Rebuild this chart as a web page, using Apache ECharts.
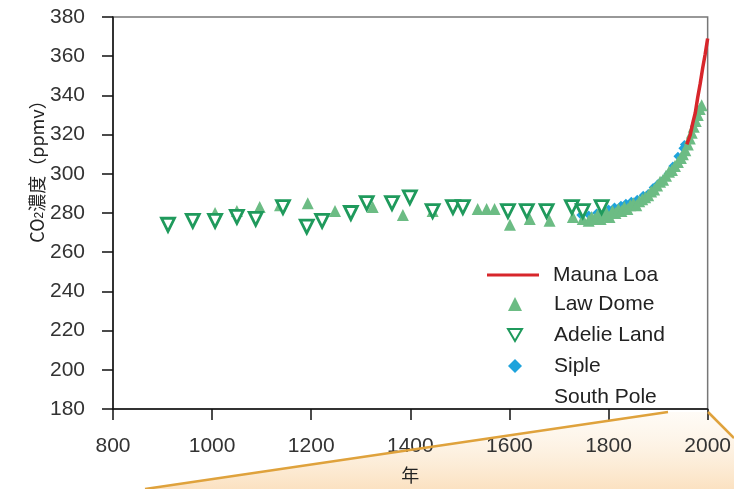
<!DOCTYPE html>
<html>
<head>
<meta charset="utf-8">
<script src="https://cdn.jsdelivr.net/npm/echarts@6/dist/echarts.min.js"></script>
<style>
html,body{margin:0;padding:0;background:#fff;}
#chart{width:734px;height:489px;}
</style>
</head>
<body>
<div id="chart"></div>
<script>
// ---- data (year, CO2 ppmv) ----
var xTicks = [800, 1000, 1200, 1400, 1600, 1800, 2000];
var yTicks = [180, 200, 220, 240, 260, 280, 300, 320, 340, 360, 380];
var seriesNames = ['Mauna Loa', 'Law Dome', 'Adelie Land', 'Siple', 'South Pole'];

var maunaLoa = [[1958,315],[1965,320],[1970,326],[1975,331],[1980,339],[1985,346],[1990,354],[1995,361],[2000,369]];

var lawDome = [[1006,280],[1050,281],[1096,283],[1137,284],[1193,285],[1248,281],[1324,283],[1385,279],
  [1445,281],[1536,282],[1554,282],[1570,282],[1601,274],[1641,277],[1681,276],[1728,278],[1748,277],
  [1760,276],[1766,278],[1772,277],[1778,279],[1784,277],[1790,279],[1796,280],[1802,278],[1808,281],
  [1814,280],[1820,282],[1826,281],[1832,283],[1838,282],[1844,284],[1850,285],[1856,284],[1862,286],
  [1868,287],[1874,288],[1880,289],[1886,291],[1892,292],[1898,294],[1904,296],[1910,297],[1916,299],
  [1922,301],[1928,302],[1934,304],[1940,306],[1946,308],[1950,310],[1955,312],[1960,315],[1964,318],
  [1968,321],[1972,324],[1976,327],[1980,330],[1984,333],[1988,335]];

var adelieLand = [[911,274],[961,276],[1006,276],[1050,278],[1088,277],[1143,283],[1191,273],[1222,276],
  [1280,280],[1312,285],[1363,285],[1399,288],[1445,281],[1486,283],[1506,283],[1597,281],[1635,281],
  [1675,281],[1726,283],[1748,281],[1786,283]];

var siple = [[1744,279],[1760,279],[1776,280],[1790,281],[1800,282],[1812,283],[1825,284],[1835,285],
  [1846,286],[1858,287],[1870,289],[1880,290],[1890,293],[1900,295],[1910,297],[1920,300],[1930,304],
  [1940,309],[1950,313],[1953,315]];

var southPole = [];

var chart = echarts.init(document.getElementById('chart'), null, {renderer: 'canvas'});
var fontLatin = '"Liberation Sans", Arial, Helvetica, sans-serif';
var fontCJK = '"Noto Sans CJK TC", "Noto Sans CJK SC", sans-serif';
var legendText = {fontFamily: fontLatin, fontSize: 21, lineHeight: 22, color: '#222'};

chart.setOption({
  animation: false,
  backgroundColor: '#ffffff',
  graphic: [
    {
      type: 'polygon', z: -1, silent: true,
      shape: {points: [[145,489],[668,412],[708,412],[734,438],[734,489]]},
      style: {
        fill: new echarts.graphic.LinearGradient(0, 0, 0, 1, [
          {offset: 0, color: 'rgba(253,242,226,0.3)'},
          {offset: 1, color: 'rgba(251,224,190,0.95)'}
        ])
      }
    },
    {
      type: 'polyline', z: 10, silent: true,
      shape: {points: [[145,489],[668,412]]},
      style: {stroke: '#dfa23c', lineWidth: 2.5}
    },
    {
      type: 'polyline', z: 10, silent: true,
      shape: {points: [[708,412],[734,438]]},
      style: {stroke: '#dfa23c', lineWidth: 2.5}
    }
  ],
  grid: {left: 113, right: 26, top: 17, bottom: 77, show: true, borderColor: '#777', borderWidth: 1.5, backgroundColor: 'transparent'},
  legend: [
    {
      orient: 'vertical',
      left: 482, top: 259,
      itemWidth: 52, itemHeight: 3,
      icon: 'rect',
      textStyle: Object.assign({padding: [0, 0, 0, 9]}, legendText),
      data: [{name: 'Mauna Loa'}]
    },
    {
      orient: 'vertical',
      left: 502, top: 288,
      itemWidth: 14, itemHeight: 14, itemGap: 9,
      textStyle: Object.assign({padding: [0, 0, 0, 27]}, legendText),
      data: [
        {name: 'Law Dome'},
        {name: 'Adelie Land', icon: 'path://M0,0 L12,0 L6,10.4 Z'},
        {name: 'Siple'},
        {name: 'South Pole', icon: 'none'}
      ]
    }
  ],
  xAxis: {
    type: 'value', min: xTicks[0], max: xTicks[xTicks.length - 1], interval: 200,
    name: '年', nameLocation: 'middle', nameGap: 57, nameMoveOverlap: false,
    nameTextStyle: {fontFamily: fontCJK, fontSize: 18, color: '#222'},
    axisLine: {lineStyle: {color: '#111', width: 1.5}},
    axisTick: {inside: false, length: 11, lineStyle: {color: '#111', width: 1.5}},
    axisLabel: {fontFamily: fontLatin, fontSize: 21, color: '#333', margin: 27, formatter: function (v) { return String(v); }},
    splitLine: {show: false}
  },
  yAxis: {
    type: 'value', min: yTicks[0], max: yTicks[yTicks.length - 1], interval: 20,
    name: 'CO{s|2}濃度（ppmv）', nameLocation: 'middle', nameGap: 67, nameMoveOverlap: false,
    nameTextStyle: {fontFamily: fontCJK, fontSize: 18, color: '#222', padding: [0, 0, 0, 92],
      rich: {s: {fontFamily: fontLatin, fontSize: 12, color: '#222', verticalAlign: 'bottom', padding: [6,0,0,0]}}},
    axisLine: {lineStyle: {color: '#111', width: 1.5}},
    axisTick: {inside: false, length: 11, lineStyle: {color: '#111', width: 1.5}},
    axisLabel: {fontFamily: fontLatin, fontSize: 21, color: '#333', margin: 28, formatter: function (v) { return String(v); }},
    splitLine: {show: false}
  },
  series: [
    {
      name: 'Mauna Loa', type: 'line', data: maunaLoa, symbol: 'none', z: 5,
      lineStyle: {color: '#d7262b', width: 3.5}, itemStyle: {color: '#d7262b'}
    },
    {
      name: 'Law Dome', type: 'scatter', data: lawDome, symbol: 'triangle', symbolSize: 12, z: 3,
      itemStyle: {color: '#6cbc84', opacity: 1}
    },
    {
      name: 'Adelie Land', type: 'scatter', data: adelieLand, symbol: 'triangle', symbolRotate: 180, symbolSize: 13, z: 4,
      itemStyle: {color: '#ffffff', borderColor: '#1f9a5c', borderWidth: 2.8, opacity: 1}
    },
    {
      name: 'Siple', type: 'scatter', data: siple, symbol: 'diamond', symbolSize: 9, z: 2,
      itemStyle: {color: '#1ea3dc', opacity: 1}
    },
    {
      name: 'South Pole', type: 'scatter', data: southPole, symbol: 'none', symbolSize: 0
    }
  ]
});
</script>
</body>
</html>
